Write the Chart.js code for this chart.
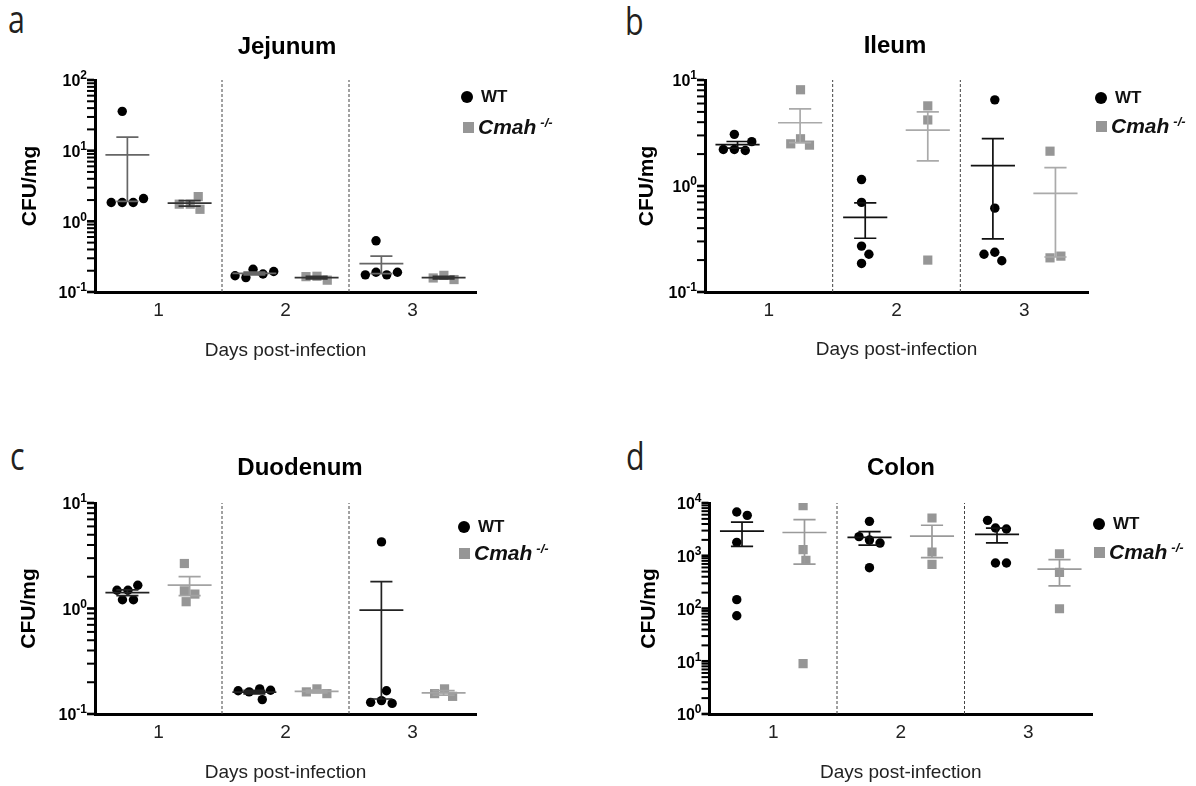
<!DOCTYPE html>
<html>
<head>
<meta charset="utf-8">
<script src="https://cdn.jsdelivr.net/npm/chart.js@4.4.1/dist/chart.umd.min.js"></script>
<style>
  body { margin: 0; background: #fff; }
  #page { position: relative; width: 1196px; height: 786px; overflow: hidden; font-family: "Liberation Sans", Arial, sans-serif; }
  .box { position: absolute; }
  .letter { position: absolute; font-family: "Open Sans", sans-serif; font-size: 38px; line-height: 1; color: #231f20; transform: scaleX(0.8); transform-origin: left top; }
  .key { position: absolute; height: 24px; display: flex; align-items: center; white-space: nowrap; color: #111; z-index: 2; }
  .dot { width: 12px; height: 12px; border-radius: 50%; background: #000; margin-right: 8px; }
  .sq { width: 11px; height: 11px; background: #969696; margin-right: 4px; }
  .key b { font-size: 17px; }
  .key i { font-size: 21px; font-weight: bold; }
  .key sup { font-size: 13px; font-weight: bold; font-style: italic; margin-left: 4px; position: relative; top: -5px; }
</style>
</head>
<body>
<div id="page">
  <div class="letter" style="left:8px;top:-1px">a</div>
  <div class="letter" style="left:625px;top:1px">b</div>
  <div class="letter" style="left:10px;top:436px">c</div>
  <div class="letter" style="left:626px;top:436px">d</div>

  <div class="box" style="left:0px;top:0px"><canvas id="pa" width="574" height="370"></canvas></div>
  <div class="box" style="left:610px;top:0px"><canvas id="pb" width="570" height="370"></canvas></div>
  <div class="box" style="left:0px;top:420px"><canvas id="pc" width="600" height="366"></canvas></div>
  <div class="box" style="left:610px;top:420px"><canvas id="pd" width="582" height="366"></canvas></div>

  <div class="key" style="left:461px;top:85px"><span class="dot"></span><b>WT</b></div>
  <div class="key" style="left:463px;top:115px"><span class="sq"></span><i>Cmah</i><sup>-/-</sup></div>
  <div class="key" style="left:1095px;top:86px"><span class="dot"></span><b>WT</b></div>
  <div class="key" style="left:1096px;top:114px"><span class="sq"></span><i>Cmah</i><sup>-/-</sup></div>
  <div class="key" style="left:458px;top:515px"><span class="dot"></span><b>WT</b></div>
  <div class="key" style="left:459px;top:541px"><span class="sq"></span><i>Cmah</i><sup>-/-</sup></div>
  <div class="key" style="left:1093px;top:512px"><span class="dot"></span><b>WT</b></div>
  <div class="key" style="left:1094px;top:540px"><span class="sq"></span><i>Cmah</i><sup>-/-</sup></div>
</div>

<script>
const dayLabels = ['1', '2', '3']

// CFU/mg per mouse, one inner array per day
const jejunumWT   = [[36, 1.85, 1.85, 1.85, 2.1], [0.21, 0.18, 0.16, 0.17, 0.195], [0.19, 0.175, 0.53, 0.175, 0.19]]
const jejunumCmah = [[1.75, 1.48, 1.75, 2.24], [0.167, 0.147, 0.165], [0.172, 0.15, 0.158]]
const jejunumDecades = [-1, 0, 1, 2]

const ileumWT   = [[2.21, 2.16, 3.07, 2.21, 2.62], [1.15, 0.70, 0.271, 0.227, 0.186], [6.5, 0.618, 0.237, 0.197, 0.227]]
const ileumCmah = [[8.09, 2.79, 2.43, 2.5], [5.7, 4.2, 0.20], [2.13, 0.21, 0.218]]
const ileumDecades = [-1, 0, 1]

const duodenumWT   = [[1.49, 1.66, 1.49, 1.21, 1.21], [0.173, 0.168, 0.137, 0.162, 0.166], [4.28, 0.134, 0.126, 0.129, 0.166]]
const duodenumCmah = [[2.67, 1.47, 1.37, 1.16], [0.173, 0.156, 0.162], [0.173, 0.147, 0.156]]
const duodenumDecades = [-1, 0, 1]

const colonWT   = [[6740, 5830, 1795, 147, 73], [4490, 1983, 1740, 2300, 594], [3360, 3214, 4690, 728, 728]]
const colonCmah = [[8900, 1303, 819, 9.0], [5200, 1178, 685], [1092, 483, 99]]
const colonDecades = [0, 1, 2, 3, 4]

const FONT = '"Liberation Sans", Arial, sans-serif'
Chart.defaults.font.family = FONT

const SHIFT = 0.245   // WT left of the day, Cmah right of it
const MEAN_W = 0.173
const CAP_W = 0.087
const GAP = 11        // px between point centres in the swarm

// spacer = width of an empty right-hand axis, so the full-width title lands where it should
const panels = [
  { id: 'pa', title: 'Jejunum', wt: jejunumWT, ko: jejunumCmah, decades: jejunumDecades,
    yWidth: 95, spacer: 98, xHeight: 78, titlePad: {top: 32.6, bottom: 18.6},
    yTitlePad: 17.4, xTitlePad: 7.6, wtBar: '#666', koBar: '#333' },
  { id: 'pb', title: 'Ileum', wt: ileumWT, ko: ileumCmah, decades: ileumDecades,
    yWidth: 95, spacer: 92, xHeight: 78, titlePad: {top: 32, bottom: 19.2},
    yTitlePad: 24.9, xTitlePad: 8.6, wtBar: '#111', koBar: '#aaa' },
  { id: 'pc', title: 'Duodenum', wt: duodenumWT, ko: duodenumCmah, decades: duodenumDecades,
    yWidth: 95, spacer: 124, xHeight: 72, titlePad: {top: 33.6, bottom: 20.6},
    yTitlePad: 16.4, xTitlePad: 1.6, wtBar: '#222', koBar: '#a3a3a3' },
  { id: 'pd', title: 'Colon', wt: colonWT, ko: colonCmah, decades: colonDecades,
    yWidth: 99.5, spacer: 100, xHeight: 72, titlePad: {top: 33.6, bottom: 20.6},
    yTitlePad: 26.9, xTitlePad: 1.6, wtBar: '#111', koBar: '#9a9a9a' }
]

function meanSem(v) {
  const n = v.length
  const m = v.reduce((a, b) => a + b, 0) / n
  const sd = Math.sqrt(v.reduce((a, b) => a + (b - m) ** 2, 0) / (n - 1))
  return [m, sd / Math.sqrt(n)]
}

// mean line + SEM whisker with caps, broken up with nulls
function barPoints(groups, shift, lo) {
  const pts = []
  groups.forEach((vals, i) => {
    const c = i + 1 + shift
    const [m, s] = meanSem(vals)
    const top = m + s, bot = Math.max(m - s, lo)
    pts.push({x: c - MEAN_W, y: m}, {x: c + MEAN_W, y: m}, {x: c, y: null},
             {x: c, y: bot}, {x: c, y: top}, {x: c, y: null},
             {x: c - CAP_W, y: top}, {x: c + CAP_W, y: top}, {x: c, y: null},
             {x: c - CAP_W, y: bot}, {x: c + CAP_W, y: bot}, {x: c, y: null})
  })
  return pts
}

// simple beeswarm in pixel space, then back to axis units
function swarm(chart, groups, shift) {
  const xs = chart.scales.x, ys = chart.scales.y
  const unit = xs.getPixelForValue(1) - xs.getPixelForValue(0)
  const out = []
  groups.forEach((vals, i) => {
    const placed = []
    vals.forEach(v => {
      const py = ys.getPixelForValue(v)
      const cands = [0]
      placed.forEach(p => {
        const dy = py - p.y
        if (Math.abs(dy) < GAP) {
          const dx = Math.sqrt(GAP * GAP - dy * dy)
          cands.push(p.x + dx, p.x - dx)
        }
      })
      const ok = cands.filter(c => placed.every(p => Math.hypot(c - p.x, py - p.y) > GAP - 0.01))
      ok.sort((a, b) => Math.abs(a) - Math.abs(b))
      placed.push({x: ok[0], y: py, v: v})
    })
    const px = placed.map(p => p.x)
    const mid = (Math.min(...px) + Math.max(...px)) / 2
    placed.forEach(p => out.push({x: i + 1 + shift + (p.x - mid) / unit, y: p.v}))
  })
  return out
}

// log tick marks left of the axis, and 10 with a raised exponent at every decade
const logAxis = {
  id: 'logAxis',
  afterDraw(chart) {
    const {ctx, chartArea} = chart
    const y = chart.scales.y
    const edge = chartArea.left - 1
    ctx.save()
    ctx.fillStyle = '#000'
    y.ticks.forEach(t => {
      const py = y.getPixelForValue(t.value)
      const w = t.major ? 2.6 : 2
      ctx.fillRect(edge - 7, py - w / 2, 7, w)
    })
    ctx.textAlign = 'right'
    ctx.textBaseline = 'middle'
    y.ticks.forEach(t => {
      if (!t.major) return
      const py = y.getPixelForValue(t.value)
      const exp = String(Math.round(Math.log10(t.value)))
      const right = chartArea.left - 8
      ctx.font = 'bold 12px ' + FONT
      const ew = ctx.measureText(exp).width
      ctx.fillText(exp, right, py - 4)
      ctx.font = 'bold 16px ' + FONT
      ctx.fillText('10', right - ew, py + 2)
    })
    ctx.restore()
  }
}

panels.forEach(p => {
  const lo = 10 ** p.decades[0]
  const hi = 10 ** p.decades[p.decades.length - 1]
  const logTicks = []
  p.decades.forEach((d, k) => {
    const last = k === p.decades.length - 1
    for (let s = 1; s <= (last ? 1 : 9); s++) logTicks.push({value: s * 10 ** d, major: s === 1})
  })

  const centre = (groups, shift) => groups.flatMap((vals, i) => vals.map(v => ({x: i + 1 + shift, y: v})))

  const chart = new Chart(document.getElementById(p.id), {
    type: 'scatter',
    data: {
      datasets: [
        { type: 'line', data: barPoints(p.wt, -SHIFT, lo), borderColor: p.wtBar, borderWidth: 1.7,
          pointRadius: 0, spanGaps: false, fill: false },
        { type: 'line', data: barPoints(p.ko, SHIFT, lo), borderColor: p.koBar, borderWidth: 1.7,
          pointRadius: 0, spanGaps: false, fill: false },
        { label: 'WT', data: centre(p.wt, -SHIFT), pointStyle: 'circle', pointRadius: 4.7,
          backgroundColor: '#000', borderWidth: 0 },
        { label: 'Cmah -/-', data: centre(p.ko, SHIFT), pointStyle: 'rect', pointRadius: 6.5,
          backgroundColor: '#969696', borderWidth: 0 },
        { type: 'line', data: [{x: 1.5, y: lo}, {x: 1.5, y: hi}, {x: 1.5, y: null}, {x: 2.5, y: lo}, {x: 2.5, y: hi}],
          borderColor: '#444', borderWidth: 1, borderDash: [3, 2], pointRadius: 0, spanGaps: false }
      ]
    },
    options: {
      responsive: false,
      animation: false,
      layout: { padding: 0 },
      plugins: {
        legend: { display: false },
        tooltip: { enabled: false },
        title: { display: true, text: p.title, fullSize: true, color: '#000',
                 font: {size: 24, weight: 'bold'}, padding: p.titlePad }
      },
      scales: {
        x: {
          type: 'linear', min: 0.5, max: 3.5,
          afterBuildTicks: s => { s.ticks = dayLabels.map((l, i) => ({value: i + 1})) },
          afterFit: s => { s.height = p.xHeight },
          ticks: { callback: (v, i) => dayLabels[i], color: '#222', font: {size: 19}, padding: 7.6,
                   autoSkip: false, maxRotation: 0 },
          grid: { display: false, drawTicks: false },
          border: { display: true, color: '#000', width: 3 },
          title: { display: true, text: 'Days post-infection', color: '#222', font: {size: 19},
                   padding: {top: 0, bottom: p.xTitlePad} }
        },
        y: {
          type: 'logarithmic', min: lo, max: hi,
          afterBuildTicks: s => { s.ticks = logTicks.map(t => ({value: t.value, major: t.major})) },
          afterFit: s => { s.width = p.yWidth },
          ticks: { display: false },
          grid: { display: false },
          border: { display: true, color: '#000', width: 3 },
          title: { display: true, text: 'CFU/mg', color: '#000', font: {size: 21, weight: 'bold'},
                   padding: {top: p.yTitlePad, bottom: 0} }
        },
        spacer: {
          type: 'linear', position: 'right', display: true,
          afterFit: s => { s.width = p.spacer },
          ticks: { display: false },
          grid: { display: false, drawTicks: false },
          border: { display: false }
        }
      }
    },
    plugins: [logAxis]
  })

  chart.data.datasets[2].data = swarm(chart, p.wt, -SHIFT)
  chart.data.datasets[3].data = swarm(chart, p.ko, SHIFT)
  chart.update('none')
})
</script>
</body>
</html>
